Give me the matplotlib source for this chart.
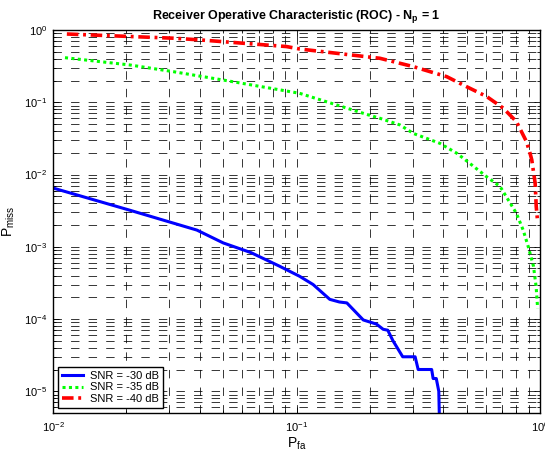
import matplotlib

matplotlib.use("Agg")
import matplotlib.pyplot as plt

plt.rcParams["font.family"] = ["Liberation Sans", "DejaVu Sans"]
plt.rcParams["mathtext.fontset"] = "custom"
plt.rcParams["mathtext.rm"] = "Liberation Sans"
plt.rcParams["mathtext.it"] = "Liberation Sans"
plt.rcParams["mathtext.bf"] = "Liberation Sans:bold"

# ROC curves, probability of false alarm vs probability of miss
pfa_30 = [0.010, 0.0207, 0.039, 0.050, 0.065, 0.085, 0.103, 0.117, 0.137, 0.150,
          0.161, 0.188, 0.213, 0.227, 0.237, 0.249, 0.273, 0.307, 0.316, 0.359,
          0.364, 0.375, 0.384, 0.390]
pmiss_30 = [6.5e-3, 3.2e-3, 1.7e-3, 1.13e-3, 8.3e-4, 5.4e-4, 3.9e-4, 3.0e-4, 1.87e-4, 1.72e-4,
            1.67e-4, 9.7e-5, 8.5e-5, 7.2e-5, 7.0e-5, 5.0e-5, 3.0e-5, 3.0e-5, 2.0e-5, 2.0e-5,
            1.5e-5, 1.5e-5, 1.0e-5, 1.0e-6]

pfa_35 = [0.0112, 0.0207, 0.0312, 0.050, 0.091, 0.103, 0.194, 0.220, 0.266, 0.302,
          0.388, 0.455, 0.484, 0.604, 0.686, 0.80, 0.853, 0.895, 0.94, 0.964, 0.978]
pmiss_35 = [0.414, 0.328, 0.265, 0.203, 0.143, 0.133, 0.068, 0.060, 0.0485, 0.037,
            0.027, 0.0197, 0.0168, 9.3e-3, 6.8e-3, 2.9e-3, 1.7e-3, 1.0e-3, 5.4e-4, 2.8e-4, 1.4e-4]

pfa_40 = [0.0114, 0.0312, 0.040, 0.091, 0.103, 0.220, 0.266, 0.302, 0.414, 0.50,
          0.604, 0.706, 0.80, 0.88, 0.91, 0.925, 0.955, 0.965, 0.978]
pmiss_40 = [0.88, 0.77, 0.73, 0.59, 0.546, 0.406, 0.346, 0.311, 0.226, 0.164,
            0.120, 0.083, 0.054, 0.0285, 0.0197, 0.016, 7.6e-3, 3.6e-3, 2.2e-3]

labels = ["SNR = -30 dB", "SNR = -35 dB", "SNR = -40 dB"]

fig = plt.figure(figsize=(5.45, 4.55), dpi=100)
ax = fig.add_axes([53 / 545, 1 - 413 / 455, 487 / 545, 383 / 455])

ax.plot(pfa_30, pmiss_30, color="#0000ff", lw=2.2, label=labels[0])
ax.plot(pfa_35, pmiss_35, color="#00ff00", lw=2.2, linestyle=(0, (1, 1.1)),
        label=labels[1])
ax.plot(pfa_40, pmiss_40, color="#ff0000", lw=2.6, linestyle=(0, (3.2, 1.3, 0.8, 1.3)),
        label=labels[2])

ax.set_xscale("log")
ax.set_yscale("log")
ax.set_xlim(1e-2, 1)
ax.set_ylim(5e-6, 1)

grid_style = dict(color="k", lw=0.55, linestyle=(0, (11, 12)))
ax.grid(True, which="both", **grid_style)
ax.set_axisbelow(True)

ax.tick_params(which="both", direction="in", top=True, right=True, labelsize=8,
               width=0.6)
ax.tick_params(which="major", length=4)
ax.tick_params(which="minor", length=2)
ax.tick_params(axis="y", which="major", pad=4)
ax.tick_params(axis="x", which="major", pad=5)
for spine in ax.spines.values():
    spine.set_linewidth(1.0)

ax.set_xlabel(r"P$_{\mathrm{fa}}$", fontsize=10, labelpad=1)
ax.set_ylabel(r"P$_{\mathrm{miss}}$", fontsize=10, labelpad=5)
ax.set_title(r"Receiver Operative Characteristic (ROC) - N$_{\mathbf{p}}$ = 1",
             fontsize=9, fontweight="bold", pad=8)

leg = ax.legend(loc="lower left", bbox_to_anchor=(0.0103, 0.013), borderaxespad=0,
                fontsize=8, fancybox=False, framealpha=1, edgecolor="k",
                handlelength=1.9, handletextpad=0.6, labelspacing=0.15,
                borderpad=0.35)
leg.get_frame().set_linewidth(1.0)

fig.savefig("out.png", dpi=100)
